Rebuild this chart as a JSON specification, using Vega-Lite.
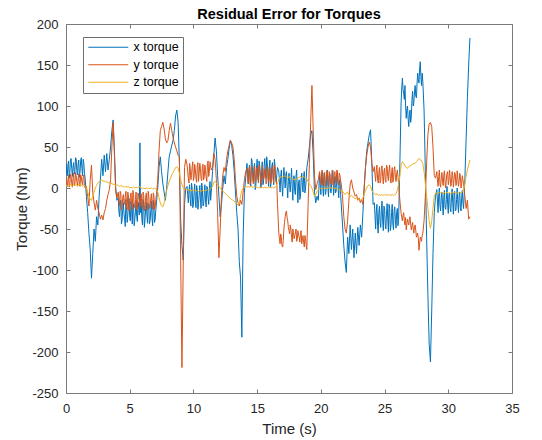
{
"$schema": "https://vega.github.io/schema/vega-lite/v6.json",
"width": 446, "height": 369,
"autosize": {"type": "none"},
"padding": {"left": 66, "top": 24, "right": 30, "bottom": 47},
"background": "white",
"config": {"view": {"stroke": null}, "font": "Liberation Sans"},
"title": {"text": "Residual Error for Torques", "fontSize": 14.5, "fontWeight": "bold", "color": "#000000", "font": "Liberation Sans", "offset": -4, "anchor": "middle"},
"layer": [
{
"data": {"values": [
{"t":0.0,"x":30,"y":12,"z":4},{"t":0.1,"x":15,"y":2,"z":2},{"t":0.2,"x":33,"y":16,"z":4},{"t":0.3,"x":18,"y":4,"z":3},{"t":0.4,"x":36,"y":14,"z":5},{"t":0.5,"x":14,"y":1,"z":2},{"t":0.6,"x":31,"y":18,"z":4},{"t":0.7,"x":20,"y":5,"z":3},{"t":0.8,"x":35,"y":15,"z":4},{"t":0.9,"x":16,"y":3,"z":2},{"t":1.0,"x":34,"y":17,"z":5},{"t":1.1,"x":19,"y":2,"z":3},{"t":1.2,"x":37,"y":14,"z":4},{"t":1.3,"x":15,"y":4,"z":2},{"t":1.4,"x":30,"y":16,"z":4},{"t":1.5,"x":12,"y":0,"z":2},
{"t":0.05,"x":22,"y":7},{"t":0.15,"x":28,"y":10},{"t":0.25,"x":12,"y":1},{"t":0.35,"x":34,"y":17},{"t":0.45,"x":24,"y":6},{"t":0.55,"x":26,"y":12},{"t":0.65,"x":17,"y":3},{"t":0.75,"x":37,"y":19},{"t":0.85,"x":21,"y":8},{"t":0.95,"x":29,"y":11},{"t":1.05,"x":13,"y":4},{"t":1.15,"x":33,"y":16},{"t":1.25,"x":24,"y":7},{"t":1.35,"x":35,"y":13},{"t":1.45,"x":18,"y":2},
{"t":1.6,"x":-10,"y":2,"z":0},{"t":1.7,"x":-30,"y":-10,"z":-5},{"t":1.8,"x":-55,"y":-22,"z":-10},{"t":1.9,"x":-75,"y":10,"z":-14},{"t":2.0,"x":-110,"y":28,"z":-15},{"t":2.1,"x":-80,"y":-5,"z":-10},{"t":2.2,"x":-50,"y":-18,"z":-5},{"t":2.3,"x":-65,"y":-27,"z":0},{"t":2.4,"x":-35,"y":-15,"z":3},{"t":2.5,"x":-45,"y":-25,"z":6},{"t":2.6,"x":-10,"y":-30,"z":8},{"t":2.7,"x":10,"y":-38,"z":9},{"t":2.8,"x":35,"y":-33,"z":10},{"t":2.9,"x":15,"y":-39,"z":8},{"t":3.0,"x":40,"y":-30,"z":9},{"t":3.1,"x":20,"y":-25,"z":7},{"t":3.2,"x":42,"y":-15,"z":8},{"t":3.3,"x":22,"y":-8,"z":6},{"t":3.4,"x":35,"y":-2,"z":7},{"t":3.5,"x":50,"y":10,"z":5},{"t":3.6,"x":70,"y":50,"z":6},{"t":3.7,"x":83,"y":80,"z":4},{"t":3.8,"x":45,"y":40,"z":5},{"t":3.9,"x":0,"y":-5,"z":3},{"t":4.0,"x":-15,"y":-12,"z":4},
{"t":4.1,"x":-12,"y":-5,"z":3},{"t":4.2,"x":-35,"y":-22,"z":2},{"t":4.3,"x":-15,"y":-6,"z":3},{"t":4.4,"x":-40,"y":-25,"z":2},{"t":4.5,"x":-18,"y":-8,"z":2},{"t":4.6,"x":-38,"y":-20,"z":1},{"t":4.7,"x":-14,"y":-4,"z":2},{"t":4.8,"x":-42,"y":-26,"z":1},{"t":4.9,"x":-20,"y":-9,"z":2},{"t":5.0,"x":-36,"y":-22,"z":0},{"t":5.1,"x":-16,"y":-6,"z":1},{"t":5.2,"x":-44,"y":-27,"z":0},{"t":5.3,"x":-19,"y":-8,"z":1},{"t":5.4,"x":-38,"y":-21,"z":0},{"t":5.5,"x":-15,"y":-5,"z":1},{"t":5.6,"x":-41,"y":-25,"z":0},{"t":5.7,"x":-22,"y":-10,"z":1},{"t":5.8,"x":55,"y":-23,"z":2},{"t":5.9,"x":-18,"y":-7,"z":0},{"t":6.0,"x":-45,"y":-26,"z":-1},{"t":6.1,"x":-20,"y":-9,"z":0},{"t":6.2,"x":-39,"y":-22,"z":-1},{"t":6.3,"x":-17,"y":-6,"z":0},{"t":6.4,"x":-43,"y":-27,"z":-1},{"t":6.5,"x":-21,"y":-10,"z":0},{"t":6.6,"x":-40,"y":-24,"z":-1},{"t":6.7,"x":-16,"y":-7,"z":0},{"t":6.8,"x":-46,"y":-26,"z":-1},{"t":6.9,"x":-22,"y":-9,"z":0},{"t":7.0,"x":-38,"y":-23,"z":-1},{"t":7.1,"x":-18,"y":-8,"z":-2},
{"t":4.15,"x":-28,"y":-14},{"t":4.25,"x":-20,"y":-4},{"t":4.35,"x":-44,"y":-27},{"t":4.45,"x":-26,"y":-12},{"t":4.55,"x":-31,"y":-18},{"t":4.65,"x":-47,"y":-10},{"t":4.75,"x":-24,"y":-23},{"t":4.85,"x":-33,"y":-5},{"t":4.95,"x":-13,"y":-28},{"t":5.05,"x":-40,"y":-12},{"t":5.15,"x":-27,"y":-20},{"t":5.25,"x":-22,"y":-3},{"t":5.35,"x":-46,"y":-24},{"t":5.45,"x":-29,"y":-14},{"t":5.55,"x":-35,"y":-27},{"t":5.65,"x":-17,"y":-6},{"t":5.75,"x":-33,"y":-16},{"t":5.85,"x":-30,"y":-15},{"t":5.95,"x":-37,"y":-21},{"t":6.05,"x":-14,"y":-5},{"t":6.15,"x":-48,"y":-28},{"t":6.25,"x":-25,"y":-12},{"t":6.35,"x":-33,"y":-19},{"t":6.45,"x":-19,"y":-4},{"t":6.55,"x":-44,"y":-25},{"t":6.65,"x":-28,"y":-13},{"t":6.75,"x":-36,"y":-20},{"t":6.85,"x":-15,"y":-6},{"t":6.95,"x":-42,"y":-26},{"t":7.05,"x":-26,"y":-14},
{"t":7.2,"x":0,"y":10,"z":-5},{"t":7.3,"x":25,"y":45,"z":-12},{"t":7.4,"x":38,"y":70,"z":-18},{"t":7.5,"x":20,"y":75,"z":-22},{"t":7.6,"x":5,"y":80,"z":-23},{"t":7.7,"x":-5,"y":72,"z":-18},{"t":7.8,"x":-15,"y":60,"z":-10},{"t":7.9,"x":0,"y":55,"z":-3},{"t":8.0,"x":20,"y":58,"z":3},{"t":8.1,"x":38,"y":70,"z":8},{"t":8.2,"x":45,"y":79,"z":12},{"t":8.3,"x":52,"y":70,"z":16},{"t":8.4,"x":58,"y":62,"z":19},{"t":8.5,"x":70,"y":55,"z":22},{"t":8.6,"x":88,"y":50,"z":25},{"t":8.7,"x":95,"y":45,"z":26},{"t":8.8,"x":80,"y":40,"z":24},{"t":8.9,"x":30,"y":38,"z":18},{"t":9.0,"x":-40,"y":-90,"z":10},{"t":9.1,"x":-70,"y":-219,"z":4},{"t":9.2,"x":-88,"y":-95,"z":0},{"t":9.3,"x":-20,"y":25,"z":-2},{"t":9.4,"x":0,"y":35,"z":-2},
{"t":9.5,"x":2,"y":28,"z":-2},{"t":9.6,"x":-18,"y":12,"z":-3},{"t":9.7,"x":4,"y":30,"z":-2},{"t":9.8,"x":-22,"y":10,"z":-4},{"t":9.9,"x":0,"y":26,"z":-2},{"t":10.0,"x":-20,"y":9,"z":-3},{"t":10.1,"x":5,"y":29,"z":-3},{"t":10.2,"x":-24,"y":12,"z":-4},{"t":10.3,"x":-2,"y":27,"z":-3},{"t":10.4,"x":-19,"y":8,"z":-4},{"t":10.5,"x":3,"y":30,"z":-3},{"t":10.6,"x":-25,"y":11,"z":-4},{"t":10.7,"x":-1,"y":26,"z":-3},{"t":10.8,"x":-21,"y":10,"z":-4},{"t":10.9,"x":4,"y":28,"z":-3},{"t":11.0,"x":-23,"y":12,"z":-3},{"t":11.1,"x":0,"y":30,"z":-2},{"t":11.2,"x":-20,"y":14,"z":-2},{"t":11.3,"x":8,"y":32,"z":-1},{"t":11.4,"x":-5,"y":22,"z":0},
{"t":9.55,"x":-8,"y":20},{"t":9.65,"x":-3,"y":6},{"t":9.75,"x":-14,"y":24},{"t":9.85,"x":6,"y":15},{"t":9.95,"x":-24,"y":32},{"t":10.05,"x":-6,"y":13},{"t":10.15,"x":-15,"y":22},{"t":10.25,"x":3,"y":7},{"t":10.35,"x":-26,"y":31},{"t":10.45,"x":-9,"y":18},{"t":10.55,"x":-13,"y":24},{"t":10.65,"x":6,"y":9},{"t":10.75,"x":-22,"y":29},{"t":10.85,"x":-7,"y":14},{"t":10.95,"x":-16,"y":21},{"t":11.05,"x":2,"y":8},{"t":11.15,"x":-12,"y":33},{"t":11.25,"x":-3,"y":20},{"t":11.35,"x":-15,"y":27},
{"t":11.5,"x":20,"y":25,"z":2},{"t":11.6,"x":40,"y":42,"z":7},{"t":11.7,"x":61,"y":35,"z":8},{"t":11.8,"x":45,"y":10,"z":6},{"t":11.9,"x":15,"y":-30,"z":4},{"t":12.0,"x":-10,"y":-85,"z":2},{"t":12.1,"x":-35,"y":-50,"z":0},{"t":12.2,"x":-20,"y":-10,"z":-2},{"t":12.3,"x":0,"y":15,"z":-4},{"t":12.4,"x":15,"y":25,"z":-5},{"t":12.5,"x":5,"y":20,"z":-7},{"t":12.6,"x":25,"y":35,"z":-8},{"t":12.7,"x":35,"y":45,"z":-10},{"t":12.8,"x":48,"y":52,"z":-11},{"t":12.9,"x":58,"y":58,"z":-13},{"t":13.0,"x":52,"y":55,"z":-14},{"t":13.1,"x":40,"y":50,"z":-15},{"t":13.2,"x":20,"y":35,"z":-16},{"t":13.3,"x":-5,"y":10,"z":-18},{"t":13.4,"x":-30,"y":-10,"z":-19},{"t":13.5,"x":-50,"y":-18,"z":-21},{"t":13.6,"x":-90,"y":-22,"z":-18},{"t":13.7,"x":-110,"y":-15,"z":-10},{"t":13.8,"x":-182,"y":-20,"z":-3},{"t":13.9,"x":-60,"y":-5,"z":0},{"t":14.0,"x":-5,"y":10,"z":1},{"t":14.1,"x":12,"y":20,"z":2},
{"t":14.2,"x":30,"y":24,"z":1},{"t":14.3,"x":5,"y":6,"z":2},{"t":14.4,"x":28,"y":26,"z":1},{"t":14.5,"x":2,"y":8,"z":2},{"t":14.6,"x":33,"y":22,"z":1},{"t":14.7,"x":8,"y":5,"z":1},{"t":14.8,"x":30,"y":27,"z":2},{"t":14.9,"x":3,"y":9,"z":1},{"t":15.0,"x":35,"y":25,"z":1},{"t":15.1,"x":10,"y":6,"z":0},{"t":15.2,"x":28,"y":24,"z":1},{"t":15.3,"x":0,"y":8,"z":0},{"t":15.4,"x":32,"y":27,"z":1},{"t":15.5,"x":6,"y":10,"z":0},{"t":15.6,"x":36,"y":23,"z":1},{"t":15.7,"x":12,"y":5,"z":0},{"t":15.8,"x":30,"y":26,"z":1},{"t":15.9,"x":2,"y":7,"z":0},{"t":16.0,"x":34,"y":24,"z":1},{"t":16.1,"x":8,"y":9,"z":0},{"t":16.2,"x":31,"y":27,"z":1},{"t":16.3,"x":4,"y":6,"z":0},{"t":16.4,"x":28,"y":25,"z":1},{"t":16.5,"x":7,"y":8,"z":2},{"t":16.6,"x":25,"y":-20,"z":6},
{"t":14.25,"x":18,"y":14},{"t":14.35,"x":22,"y":20},{"t":14.45,"x":10,"y":4},{"t":14.55,"x":36,"y":27},{"t":14.65,"x":16,"y":13},{"t":14.75,"x":26,"y":18},{"t":14.85,"x":-2,"y":7},{"t":14.95,"x":24,"y":24},{"t":15.05,"x":14,"y":12},{"t":15.15,"x":33,"y":28},{"t":15.25,"x":12,"y":16},{"t":15.35,"x":20,"y":4},{"t":15.45,"x":4,"y":22},{"t":15.55,"x":27,"y":13},{"t":15.65,"x":18,"y":19},{"t":15.75,"x":38,"y":9},{"t":15.85,"x":14,"y":25},{"t":15.95,"x":23,"y":15},{"t":16.05,"x":0,"y":5},{"t":16.15,"x":26,"y":20},{"t":16.25,"x":15,"y":12},{"t":16.35,"x":35,"y":28},{"t":16.45,"x":12,"y":14},{"t":16.55,"x":18,"y":3},
{"t":16.7,"x":20,"y":-55,"z":10},{"t":16.8,"x":-5,"y":-68,"z":13},{"t":16.9,"x":22,"y":-60,"z":14},{"t":17.0,"x":-10,"y":-72,"z":13},{"t":17.1,"x":25,"y":-50,"z":15},{"t":17.2,"x":0,"y":-35,"z":14},{"t":17.3,"x":20,"y":-28,"z":13},{"t":17.4,"x":-12,"y":-40,"z":12},{"t":17.5,"x":18,"y":-52,"z":14},{"t":17.6,"x":-5,"y":-45,"z":13},{"t":17.7,"x":24,"y":-60,"z":12},{"t":17.8,"x":-15,"y":-50,"z":11},{"t":17.9,"x":15,"y":-62,"z":10},{"t":18.0,"x":-8,"y":-55,"z":10},{"t":18.1,"x":22,"y":-65,"z":11},{"t":18.2,"x":-18,"y":-52,"z":12},{"t":18.3,"x":10,"y":-60,"z":13},{"t":18.4,"x":-10,"y":-55,"z":14},{"t":18.5,"x":18,"y":-68,"z":13},{"t":18.6,"x":-5,"y":-58,"z":14},{"t":18.7,"x":20,"y":-72,"z":13},{"t":18.8,"x":0,"y":-62,"z":12},{"t":18.9,"x":25,"y":-75,"z":11},
{"t":16.75,"x":8,"y":-62},{"t":16.85,"x":14,"y":-56},{"t":16.95,"x":3,"y":-70},{"t":17.05,"x":10,"y":-64},{"t":17.15,"x":12,"y":-42},{"t":17.25,"x":16,"y":-30},{"t":17.35,"x":2,"y":-36},{"t":17.45,"x":8,"y":-48},{"t":17.55,"x":4,"y":-56},{"t":17.65,"x":10,"y":-50},{"t":17.75,"x":2,"y":-66},{"t":17.85,"x":12,"y":-54},{"t":17.95,"x":-4,"y":-58},{"t":18.05,"x":14,"y":-50},{"t":18.15,"x":0,"y":-62},{"t":18.25,"x":6,"y":-58},{"t":18.35,"x":-14,"y":-66},{"t":18.45,"x":10,"y":-52},{"t":18.55,"x":2,"y":-62},{"t":18.65,"x":14,"y":-66},{"t":18.75,"x":-6,"y":-58},{"t":18.85,"x":10,"y":-70},
{"t":19.0,"x":35,"y":-20,"z":8},{"t":19.1,"x":50,"y":30,"z":5},{"t":19.2,"x":65,"y":80,"z":3},{"t":19.3,"x":70,"y":125,"z":0},{"t":19.4,"x":40,"y":70,"z":-5},{"t":19.5,"x":-5,"y":15,"z":-10},{"t":19.6,"x":-18,"y":-2,"z":-8},{"t":19.7,"x":-10,"y":5,"z":-4},{"t":19.8,"x":-15,"y":10,"z":-2},
{"t":19.9,"x":18,"y":20,"z":-1},{"t":20.0,"x":-8,"y":4,"z":0},{"t":20.1,"x":20,"y":22,"z":-1},{"t":20.2,"x":-10,"y":3,"z":0},{"t":20.3,"x":15,"y":19,"z":0},{"t":20.4,"x":-5,"y":6,"z":-1},{"t":20.5,"x":22,"y":21,"z":0},{"t":20.6,"x":-11,"y":2,"z":0},{"t":20.7,"x":17,"y":18,"z":1},{"t":20.8,"x":-6,"y":5,"z":0},{"t":20.9,"x":20,"y":22,"z":0},{"t":21.0,"x":-9,"y":3,"z":0},{"t":21.1,"x":14,"y":20,"z":-1},{"t":21.2,"x":-4,"y":6,"z":0},{"t":21.3,"x":18,"y":21,"z":-1},{"t":21.4,"x":-12,"y":4,"z":-2},{"t":21.5,"x":10,"y":15,"z":-3},{"t":21.6,"x":-20,"y":5,"z":-4},
{"t":19.95,"x":4,"y":10},{"t":20.05,"x":12,"y":16},{"t":20.15,"x":2,"y":8},{"t":20.25,"x":18,"y":14},{"t":20.35,"x":-8,"y":2},{"t":20.45,"x":10,"y":18},{"t":20.55,"x":2,"y":9},{"t":20.65,"x":14,"y":20},{"t":20.75,"x":-4,"y":7},{"t":20.85,"x":6,"y":13},{"t":20.95,"x":21,"y":4},{"t":21.05,"x":4,"y":17},{"t":21.15,"x":-6,"y":10},{"t":21.25,"x":16,"y":22},{"t":21.35,"x":2,"y":8},{"t":21.45,"x":6,"y":18},{"t":21.55,"x":-8,"y":9},
{"t":21.7,"x":-45,"y":-10,"z":-4},{"t":21.8,"x":-70,"y":-35,"z":-6},{"t":21.9,"x":-90,"y":-50,"z":-8},{"t":22.0,"x":-103,"y":-55,"z":-6},{"t":22.1,"x":-60,"y":-40,"z":-5},{"t":22.2,"x":-80,"y":-15,"z":-8},{"t":22.3,"x":-45,"y":5,"z":-10},{"t":22.4,"x":-75,"y":10,"z":-9},{"t":22.5,"x":-50,"y":0,"z":-11},{"t":22.6,"x":-85,"y":-5,"z":-12},{"t":22.7,"x":-55,"y":-10,"z":-13},{"t":22.8,"x":-80,"y":-8,"z":-12},{"t":22.9,"x":-48,"y":-15,"z":-14},{"t":23.0,"x":-70,"y":-12,"z":-13},{"t":23.1,"x":-45,"y":-18,"z":-15},{"t":23.2,"x":-60,"y":-14,"z":-14},{"t":23.3,"x":-30,"y":-20,"z":-12},{"t":23.4,"x":0,"y":0,"z":-8},{"t":23.5,"x":25,"y":25,"z":-3},{"t":23.6,"x":45,"y":40,"z":0},{"t":23.7,"x":55,"y":50,"z":3},{"t":23.8,"x":65,"y":56,"z":4},{"t":23.9,"x":71,"y":50,"z":2},{"t":24.0,"x":30,"y":30,"z":-3},{"t":24.1,"x":-20,"y":20,"z":-6},
{"t":24.2,"x":-18,"y":26,"z":-7},{"t":24.3,"x":-50,"y":8,"z":-8},{"t":24.4,"x":-20,"y":28,"z":-7},{"t":24.5,"x":-55,"y":6,"z":-9},{"t":24.6,"x":-22,"y":25,"z":-8},{"t":24.7,"x":-48,"y":9,"z":-9},{"t":24.8,"x":-16,"y":27,"z":-8},{"t":24.9,"x":-52,"y":5,"z":-9},{"t":25.0,"x":-24,"y":24,"z":-8},{"t":25.1,"x":-50,"y":7,"z":-9},{"t":25.2,"x":-19,"y":26,"z":-8},{"t":25.3,"x":-54,"y":9,"z":-9},{"t":25.4,"x":-25,"y":28,"z":-8},{"t":25.5,"x":-47,"y":6,"z":-9},{"t":25.6,"x":-20,"y":25,"z":-8},{"t":25.7,"x":-51,"y":10,"z":-9},{"t":25.8,"x":-23,"y":26,"z":-8},{"t":25.9,"x":-49,"y":8,"z":-7},{"t":26.0,"x":-25,"y":22,"z":-3},{"t":26.1,"x":-40,"y":5,"z":5},
{"t":24.25,"x":-34,"y":16},{"t":24.35,"x":-28,"y":22},{"t":24.45,"x":-46,"y":12},{"t":24.55,"x":-30,"y":18},{"t":24.65,"x":-42,"y":6},{"t":24.75,"x":-26,"y":24},{"t":24.85,"x":-40,"y":14},{"t":24.95,"x":-22,"y":20},{"t":25.05,"x":-44,"y":10},{"t":25.15,"x":-32,"y":28},{"t":25.25,"x":-38,"y":14},{"t":25.35,"x":-20,"y":22},{"t":25.45,"x":-52,"y":12},{"t":25.55,"x":-30,"y":17},{"t":25.65,"x":-44,"y":7},{"t":25.75,"x":-27,"y":23},{"t":25.85,"x":-40,"y":13},{"t":25.95,"x":-30,"y":17},{"t":26.05,"x":-46,"y":14},
{"t":26.2,"x":30,"y":-15,"z":15},{"t":26.3,"x":105,"y":-31,"z":28},{"t":26.4,"x":134,"y":-40,"z":32},{"t":26.5,"x":115,"y":-30,"z":30},{"t":26.6,"x":125,"y":-45,"z":27},{"t":26.7,"x":85,"y":-51,"z":25},{"t":26.8,"x":100,"y":-38,"z":24},{"t":26.9,"x":75,"y":-45,"z":26},{"t":27.0,"x":95,"y":-35,"z":27},{"t":27.1,"x":88,"y":-51,"z":28},{"t":27.2,"x":118,"y":-42,"z":29},{"t":27.3,"x":105,"y":-55,"z":30},{"t":27.4,"x":125,"y":-45,"z":30},{"t":27.5,"x":110,"y":-60,"z":32},{"t":27.6,"x":140,"y":-55,"z":34},{"t":27.7,"x":128,"y":-76,"z":36},{"t":27.8,"x":154,"y":-60,"z":35},{"t":27.9,"x":125,"y":-65,"z":33},{"t":28.0,"x":130,"y":-55,"z":30},{"t":28.1,"x":95,"y":-40,"z":20},{"t":28.2,"x":20,"y":-10,"z":5},
{"t":26.35,"x":122,"y":-36},{"t":26.45,"x":120,"y":-33},{"t":26.55,"x":108,"y":-40},{"t":26.65,"x":100,"y":-36},{"t":26.75,"x":96,"y":-44},{"t":26.85,"x":84,"y":-42},{"t":26.95,"x":90,"y":-38},{"t":27.05,"x":80,"y":-45},{"t":27.15,"x":108,"y":-46},{"t":27.25,"x":100,"y":-50},{"t":27.35,"x":118,"y":-47},{"t":27.45,"x":112,"y":-52},{"t":27.55,"x":128,"y":-58},{"t":27.65,"x":132,"y":-62},{"t":27.75,"x":145,"y":-68},{"t":27.85,"x":136,"y":-62},{"t":27.95,"x":140,"y":-58},
{"t":28.3,"x":-60,"y":30,"z":-10},{"t":28.4,"x":-130,"y":65,"z":-25},{"t":28.5,"x":-190,"y":78,"z":-40},{"t":28.6,"x":-212,"y":80,"z":-49},{"t":28.7,"x":-150,"y":75,"z":-40},{"t":28.8,"x":-80,"y":50,"z":-25},{"t":28.9,"x":-30,"y":15,"z":-10},{"t":29.0,"x":-10,"y":12,"z":-6},
{"t":29.1,"x":-2,"y":20,"z":-6},{"t":29.2,"x":-30,"y":2,"z":-7},{"t":29.3,"x":0,"y":22,"z":-5},{"t":29.4,"x":-28,"y":1,"z":-6},{"t":29.5,"x":-5,"y":19,"z":-5},{"t":29.6,"x":-33,"y":3,"z":-7},{"t":29.7,"x":-3,"y":21,"z":-6},{"t":29.8,"x":-26,"y":0,"z":-7},{"t":29.9,"x":2,"y":18,"z":-5},{"t":30.0,"x":-31,"y":4,"z":-6},{"t":30.1,"x":-6,"y":22,"z":-6},{"t":30.2,"x":-29,"y":2,"z":-7},{"t":30.3,"x":-1,"y":20,"z":-5},{"t":30.4,"x":-32,"y":1,"z":-6},{"t":30.5,"x":-4,"y":19,"z":-5},{"t":30.6,"x":-27,"y":3,"z":-7},{"t":30.7,"x":0,"y":21,"z":-6},{"t":30.8,"x":-30,"y":2,"z":-6},{"t":30.9,"x":-5,"y":18,"z":-5},{"t":31.0,"x":-28,"y":0,"z":-6},{"t":31.1,"x":-3,"y":15,"z":-5},{"t":31.2,"x":-25,"y":5,"z":-3},
{"t":29.15,"x":-16,"y":10},{"t":29.25,"x":-8,"y":14},{"t":29.35,"x":-22,"y":4},{"t":29.45,"x":-12,"y":12},{"t":29.55,"x":-20,"y":8},{"t":29.65,"x":-10,"y":16},{"t":29.75,"x":-24,"y":6},{"t":29.85,"x":-14,"y":11},{"t":29.95,"x":-20,"y":20},{"t":30.05,"x":-8,"y":9},{"t":30.15,"x":-25,"y":13},{"t":30.25,"x":-12,"y":7},{"t":30.35,"x":-18,"y":15},{"t":30.45,"x":-6,"y":10},{"t":30.55,"x":-28,"y":17},{"t":30.65,"x":-14,"y":5},{"t":30.75,"x":-20,"y":12},{"t":30.85,"x":-9,"y":8},{"t":30.95,"x":-24,"y":14},{"t":31.05,"x":-12,"y":6},{"t":31.15,"x":-18,"y":10},
{"t":31.3,"x":10,"y":-10,"z":5},{"t":31.4,"x":60,"y":-25,"z":14},{"t":31.5,"x":110,"y":-15,"z":22},{"t":31.6,"x":150,"y":-38,"z":28},{"t":31.7,"x":183,"y":-35,"z":34}
]},
"transform": [{"fold": ["x", "y", "z"], "as": ["series", "value"]}, {"filter": "isValid(datum.value)"}],
"mark": {"type": "line", "strokeWidth": 1, "clip": true, "invalid": "filter"},
"encoding": {
"x": {"field": "t", "type": "quantitative", "sort": "ascending", "scale": {"domain": [0, 35], "nice": false},
 "axis": {"values": [0,5,10,15,20,25,30,35], "labelExpr": "'' + datum.value", "tickSize": -4, "labelPadding": 13.5, "labelFontSize": 13, "labelColor": "#262626", "labelFont": "Liberation Sans", "labelFlush": false, "labelOverlap": false, "domainColor": "#7a7a7a", "tickColor": "#7a7a7a", "grid": false, "title": "Time (s)", "titleFontSize": 15, "titleFontWeight": "normal", "titleColor": "#262626", "titleFont": "Liberation Sans", "titlePadding": 6}},
"y": {"field": "value", "type": "quantitative", "scale": {"domain": [-250, 200], "nice": false},
 "axis": {"values": [-250,-200,-150,-100,-50,0,50,100,150,200], "labelExpr": "'' + datum.value", "tickSize": -4, "labelPadding": 12, "labelFontSize": 13, "labelColor": "#262626", "labelFont": "Liberation Sans", "labelFlush": false, "labelOverlap": false, "domainColor": "#7a7a7a", "tickColor": "#7a7a7a", "grid": false, "title": "Torque (Nm)", "titleFontSize": 15, "titleFontWeight": "normal", "titleColor": "#262626", "titleFont": "Liberation Sans", "titlePadding": 2}},
"order": {"field": "t", "type": "quantitative"},
"color": {"field": "series", "type": "nominal", "scale": {"domain": ["x", "y", "z"], "range": ["#0072BD", "#D95319", "#EDB120"]},
 "legend": {"title": null, "orient": "none", "legendX": 17, "legendY": 13, "symbolType": "M-1,0H7", "symbolSize": 100, "symbolStrokeWidth": 1.2, "symbolOffset": 0, "labelExpr": "datum.label + ' torque'", "labelFontSize": 12.5, "labelColor": "#000000", "labelFont": "Liberation Sans", "labelOffset": 34, "rowPadding": 4.5, "padding": 4, "strokeColor": "#6e6e6e", "fillColor": "white"}}
}
},
{
"data": {"values": [{"t": 0, "value": 0}]},
"mark": {"type": "point", "opacity": 0},
"encoding": {
"x": {"field": "t", "type": "quantitative", "axis": {"orient": "top", "values": [0,5,10,15,20,25,30,35], "labels": false, "tickSize": -4, "domainColor": "#7a7a7a", "tickColor": "#7a7a7a", "grid": false, "title": null}},
"y": {"field": "value", "type": "quantitative", "axis": {"orient": "right", "values": [-250,-200,-150,-100,-50,0,50,100,150,200], "labels": false, "tickSize": -4, "domainColor": "#7a7a7a", "tickColor": "#7a7a7a", "grid": false, "title": null}}
}
}
],
"resolve": {"axis": {"x": "independent", "y": "independent"}}
}
